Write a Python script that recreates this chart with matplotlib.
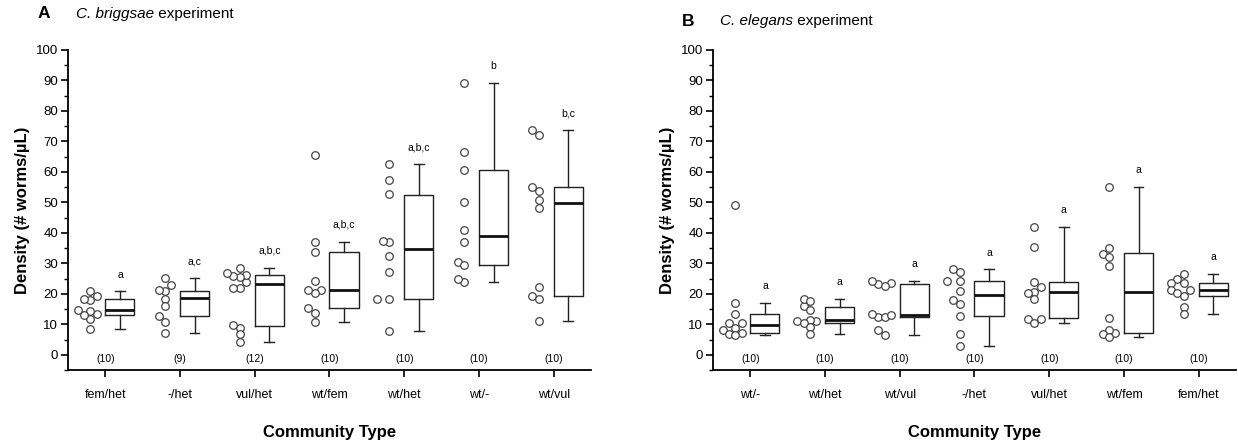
import numpy as np
import matplotlib.pyplot as plt
from matplotlib.ticker import MultipleLocator

plt.rcParams['font.family'] = ['Liberation Sans', 'DejaVu Sans']

# ---- C. briggsae experiment ----
briggsae_types = ['fem/het', '-/het', 'vul/het', 'wt/fem', 'wt/het', 'wt/-', 'wt/vul']
briggsae_points = [
    [17.9, 18.4, 20.8, 19.2, 11.6, 13.4, 8.5, 14.7, 14.4, 13.1],
    [20.8, 22.9, 25.2, 21.2, 18.4, 15.9, 12.6, 10.9, 7.2],
    [23.9, 26.1, 21.9, 25.6, 26.0, 26.7, 28.6, 22.0, 8.9, 9.6, 6.7, 4.3],
    [65.5, 37.1, 33.8, 24.2, 21.2, 20.2, 21.2, 15.2, 13.7, 10.6],
    [62.5, 57.4, 52.6, 36.9, 37.3, 32.3, 27.2, 18.4, 18.4, 7.9],
    [89.2, 66.6, 60.6, 50.2, 41.0, 37.1, 30.4, 29.3, 23.9, 24.8],
    [73.8, 72.2, 55.0, 53.8, 50.8, 48.3, 22.1, 19.2, 18.4, 11.1],
]
briggsae_q1 = [13.2, 12.6, 9.3, 15.2, 18.4, 29.3, 19.2]
briggsae_med = [14.6, 18.5, 23.1, 21.2, 34.7, 39.0, 49.7]
briggsae_q3 = [18.3, 21.0, 26.1, 33.8, 52.5, 60.6, 55.0]
briggsae_lo = [8.5, 7.2, 4.3, 10.6, 7.9, 23.9, 11.1]
briggsae_hi = [20.8, 25.2, 28.6, 37.1, 62.5, 89.2, 73.8]
briggsae_letters = ['a', 'a,c', 'a,b,c', 'a,b,c', 'a,b,c', 'b', 'b,c']

# ---- C. elegans experiment ----
elegans_types = ['wt/-', 'wt/het', 'wt/vul', '-/het', 'vul/het', 'wt/fem', 'fem/het']
elegans_points = [
    [49.3, 17.1, 13.4, 10.3, 10.3, 8.9, 8.1, 7.3, 6.7, 6.5],
    [15.9, 14.6, 18.4, 17.6, 11.1, 11.1, 11.5, 10.4, 9.1, 6.8],
    [23.3, 24.2, 23.4, 22.4, 12.5, 12.4, 13.5, 13.1, 8.2, 6.5],
    [28.0, 27.2, 24.3, 24.3, 21.0, 18.1, 16.8, 12.6, 6.8, 2.8],
    [42.0, 35.3, 24.0, 22.1, 20.6, 20.3, 18.4, 11.8, 11.8, 10.4],
    [55.0, 35.1, 33.2, 32.0, 29.0, 11.9, 7.2, 8.0, 6.7, 5.8],
    [26.6, 24.9, 23.6, 23.6, 21.2, 21.2, 20.1, 19.3, 15.8, 13.5],
]
elegans_q1 = [7.3, 10.3, 12.4, 12.6, 11.9, 7.3, 19.4]
elegans_med = [9.6, 11.3, 13.2, 19.7, 20.5, 20.5, 21.2]
elegans_q3 = [13.4, 15.8, 23.3, 24.3, 24.0, 33.3, 23.6]
elegans_lo = [6.5, 6.8, 6.5, 2.8, 10.4, 5.8, 13.5]
elegans_hi = [17.1, 18.4, 24.2, 28.0, 42.0, 55.0, 26.6]
elegans_letters = ['a'] * 7


def swarm_x(values, center, dx=0.085, dy=2.2, half=0.17):
    # simple beeswarm: put each point at the first free slot next to the center
    order = np.argsort(values)
    xs = np.zeros(len(values))
    placed = []
    for i in order:
        y = values[i]
        for k in range(0, 12):
            off = (k + 1) // 2 * dx * (-1 if k % 2 else 1)
            if abs(off) > half:
                continue
            x = center + off
            if all(((x - px) / dx) ** 2 + ((y - py) / dy) ** 2 >= 1 for px, py in placed):
                break
        placed.append((x, y))
        xs[i] = x
    return xs


def draw_panel(ax, types, points, q1, med, q3, lo, hi, letters):
    pos = np.arange(1, len(types) + 1)
    stats = []
    for i in range(len(types)):
        stats.append(dict(med=med[i], q1=q1[i], q3=q3[i], whislo=lo[i], whishi=hi[i], fliers=[]))
    line = dict(color='#222222', linewidth=1.0)
    ax.bxp(stats, positions=pos + 0.195, widths=0.39, showfliers=False,
           boxprops=line, whiskerprops=line, capprops=line, capwidths=0.13,
           medianprops=dict(color='#111111', linewidth=2.0), manage_ticks=False)
    for i, vals in enumerate(points):
        vals = np.array(vals)
        xs = swarm_x(vals, pos[i] - 0.2)
        ax.scatter(xs, vals, s=30, facecolors='white', edgecolors='#444444',
                   linewidths=0.9, zorder=3)
        ax.text(pos[i] + 0.195, hi[i] + 5.5, letters[i], ha='center', va='center', fontsize=7.5)
        ax.text(pos[i], -1.5, f'({len(vals)})', ha='center', va='center', fontsize=7.5)

    ax.set_xlim(0.5, len(types) + 0.5)
    ax.set_ylim(-5, 100)
    ax.set_xticks(pos)
    ax.set_xticklabels(types, fontsize=9)
    ax.set_yticks(np.arange(0, 101, 10))
    ax.yaxis.set_minor_locator(MultipleLocator(5))
    ax.tick_params(axis='y', labelsize=9.5, length=5, width=1.2, pad=2)
    ax.tick_params(axis='y', which='minor', length=3, width=1.0)
    ax.tick_params(axis='x', length=5, width=1.2, pad=9)
    ax.spines['top'].set_visible(False)
    ax.spines['right'].set_visible(False)
    ax.spines['left'].set_linewidth(1.3)
    ax.spines['bottom'].set_linewidth(1.3)
    ax.spines['left'].set_bounds(-5, 100)
    ax.set_ylabel('Density (# worms/µL)', fontsize=12, fontweight='bold', labelpad=4)
    ax.set_xlabel('Community Type', fontsize=12, fontweight='bold', labelpad=17)


fig = plt.figure(figsize=(12.38, 4.44), dpi=100)
ax1 = fig.add_axes([0.0549, 0.1667, 0.4225, 0.7207])
ax2 = fig.add_axes([0.5759, 0.1667, 0.4225, 0.7207])

draw_panel(ax1, briggsae_types, briggsae_points, briggsae_q1, briggsae_med,
           briggsae_q3, briggsae_lo, briggsae_hi, briggsae_letters)
draw_panel(ax2, elegans_types, elegans_points, elegans_q1, elegans_med,
           elegans_q3, elegans_lo, elegans_hi, elegans_letters)

# panel titles: bold letter, italic species name, plain "experiment"
renderer = fig.canvas.get_renderer()
for letter, species, lx, sx, ty in [('A', 'C. briggsae', 38, 76, 14),
                                    ('B', 'C. elegans', 682, 720, 21)]:
    fig.text(lx / 1238, 1 - ty / 444, letter, fontsize=12.5, fontweight='bold', va='center')
    t = fig.text(sx / 1238, 1 - ty / 444, species, fontsize=11, style='italic', va='center')
    bb = t.get_window_extent(renderer)
    fig.text(bb.x1 / 1238, 1 - ty / 444, ' experiment', fontsize=11, va='center')

plt.savefig('out.png', dpi=100)
